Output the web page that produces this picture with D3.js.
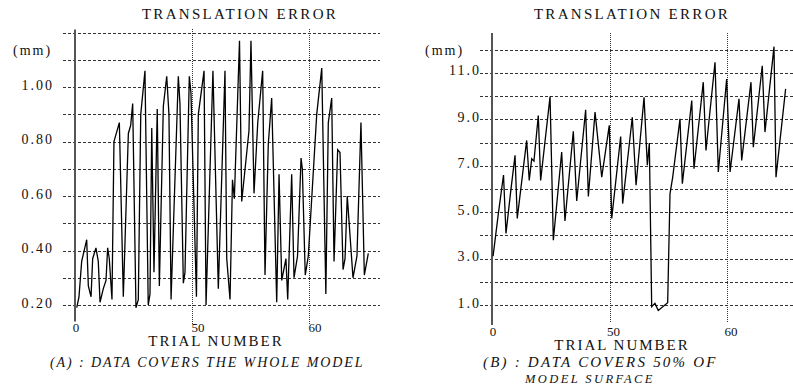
<!DOCTYPE html>
<html><head><meta charset="utf-8">
<script src="https://cdn.jsdelivr.net/npm/d3@7"></script>
<style>body{margin:0;background:#fff} svg{display:block}</style>
</head><body><svg id="c" width="793" height="387"></svg>
<script>
// ---- data (A) : data covers the whole model ----
const trialsA = [40.15,40.34,40.57,41.0,41.14,41.37,41.51,41.79,41.99,42.14,42.42,42.65,42.79,42.93,43.16,43.33,43.79,44.13,44.56,44.76,44.93,45.21,45.41,45.62,45.98,46.26,46.41,46.56,46.75,47.03,47.21,47.55,47.84,48.03,48.21,48.83,48.97,49.26,49.40,49.77,49.91,50.38,50.54,51.03,51.20,51.79,52.25,52.82,52.97,53.25,53.46,53.62,54.06,54.25,54.87,55.04,55.30,55.62,56.04,56.24,56.52,56.81,57.24,57.44,57.67,58.03,58.18,58.52,58.72,59.02,59.32,59.43,59.68,59.94,60.66,61.09,61.44,61.65,61.94,62.14,62.45,62.65,62.91,63.08,63.27,63.76,64.10,64.44,64.73,65.07];
const errorA = [0.19,0.23,0.36,0.44,0.27,0.23,0.37,0.41,0.36,0.21,0.26,0.29,0.41,0.37,0.22,0.80,0.87,0.23,0.83,0.86,0.94,0.19,0.22,0.90,1.06,0.20,0.24,0.85,0.32,0.92,0.27,0.93,1.04,0.90,0.22,1.04,0.94,0.28,0.32,1.04,0.98,0.23,0.90,1.06,0.20,1.06,0.26,1.06,0.37,0.22,0.66,0.59,1.17,0.58,0.84,1.17,0.61,0.87,1.06,0.31,0.79,0.96,0.21,0.68,0.29,0.37,0.22,0.68,0.30,0.38,0.74,0.70,0.31,0.38,0.90,1.07,0.24,0.87,0.96,0.36,0.77,0.76,0.33,0.37,0.60,0.30,0.38,0.87,0.31,0.39];
// ---- data (B) : data covers 50% of model surface ----
const trialsB = [40.09,40.54,40.98,41.19,41.57,41.96,42.15,42.95,43.17,43.38,43.57,43.94,44.14,44.94,45.22,45.93,46.21,46.92,47.21,47.97,48.20,48.77,49.34,49.98,50.19,50.95,51.12,51.94,52.26,52.94,53.22,53.39,53.59,53.87,54.15,54.95,55.15,55.38,56.0,56.20,57.0,57.19,57.98,58.21,58.98,59.26,59.97,60.26,61.02,61.25,62.04,62.24,63.0,63.23,64.0,64.17,64.99];
const errorB = [3.1,4.94,6.6,4.08,5.8,7.45,4.73,8.09,6.37,7.3,7.2,9.16,6.37,9.98,3.79,7.59,4.62,8.48,5.48,9.41,5.68,9.31,6.51,8.74,4.73,8.26,5.37,9.09,6.16,9.95,7.02,7.98,0.93,1.07,0.76,1.1,5.8,6.51,9.02,6.23,9.81,6.87,10.6,7.66,11.46,6.73,10.74,6.73,9.88,7.23,10.6,7.8,11.31,8.45,12.13,6.51,10.31];
// ---- ticks / labels ----
const yTicksA = [0.2,0.4,0.6,0.8,1.0];
const yTickLabelsA = ["0.20","0.40","0.60","0.80","1.00"];
const yTicksB = [1,3,5,7,9,11];
const yTickLabelsB = ["1.0","3.0","5.0","7.0","9.0","11.0"];
const xTicks = [40,50,60];
const xTickLabels = ["0","50","60"];
const titleText = "TRANSLATION ERROR";
const unitText = "(mm)";
const xTitle = "TRIAL NUMBER";
const captionA = ["(A) : DATA COVERS THE WHOLE MODEL"];
const captionB = ["(B) : DATA COVERS 50% OF","MODEL SURFACE"];

const svg = d3.select("#c");
const FONT = "'Liberation Serif','Times New Roman',serif";

function panel(cfg){
  const g = svg.append("g");
  const x = d3.scaleLinear().domain([40,60]).range(cfg.xr);
  const y = d3.scaleLinear().domain(cfg.yd).range(cfg.yr);
  // horizontal grid
  const grid = d3.range(cfg.yd[0], cfg.yd[1] + cfg.step/2, cfg.step);
  g.selectAll(".hg").data(grid).join("line")
    .attr("x1", cfg.gx[0]).attr("x2", cfg.gx[1])
    .attr("y1", d => Math.round(y(d)) + 0.5).attr("y2", d => Math.round(y(d)) + 0.5)
    .attr("stroke", "#333").attr("stroke-width", 1).attr("stroke-dasharray", "3,2");
  // vertical grid
  g.selectAll(".vg").data(xTicks.slice(1)).join("line")
    .attr("x1", d => Math.round(x(d)) + 0.5).attr("x2", d => Math.round(x(d)) + 0.5)
    .attr("y1", cfg.vy[0]).attr("y2", cfg.vy[1])
    .attr("stroke", "#333").attr("stroke-width", 1).attr("stroke-dasharray", "1,1");
  // axis line
  g.append("line").attr("x1", x(40)).attr("x2", x(40))
    .attr("y1", cfg.ay[0]).attr("y2", cfg.ay[1])
    .attr("stroke", "#555").attr("stroke-width", 2);
  // y tick labels
  g.selectAll(".yl").data(cfg.yt).join("text")
    .attr("x", cfg.ylx).attr("y", d => y(d) + 2.5)
    .attr("text-anchor", "end").attr("font-family", FONT).attr("font-size", 14)
    .attr("letter-spacing", 2).attr("fill", "#111")
    .text((d,i) => cfg.ytl[i]);
  // unit label
  g.append("text").attr("x", cfg.unitX).attr("y", 55)
    .attr("font-family", FONT).attr("font-size", 14).attr("letter-spacing", 2).attr("fill", "#111")
    .text(unitText);
  // x tick labels
  g.selectAll(".xl").data(xTicks).join("text")
    .attr("x", (d,i) => x(d) + (i === 0 ? 1 : cfg.xlOff)).attr("y", cfg.xly)
    .attr("text-anchor", "middle").attr("font-family", FONT).attr("font-size", 13).attr("fill", "#111")
    .text((d,i) => xTickLabels[i]);
  // title
  g.append("text").attr("x", cfg.titleX).attr("y", 19)
    .attr("text-anchor", "middle").attr("font-family", FONT).attr("font-size", 15)
    .attr("letter-spacing", 2.3).attr("fill", "#111").text(titleText);
  // x title
  g.append("text").attr("x", cfg.xtX).attr("y", cfg.xtY)
    .attr("text-anchor", "middle").attr("font-family", FONT).attr("font-size", 15)
    .attr("letter-spacing", 2).attr("fill", "#111").text(xTitle);
  // caption
  g.selectAll(".cap").data(cfg.cap).join("text")
    .attr("x", (d,i) => cfg.capX[i]).attr("y", (d,i) => cfg.capY[i])
    .attr("font-family", FONT).attr("font-style", "italic")
    .attr("font-size", (d,i) => cfg.capSize[i]).attr("letter-spacing", (d,i) => cfg.capLS[i])
    .attr("fill", "#111").text(d => d);
  // data line
  const line = d3.line().x(d => x(d[0])).y(d => y(d[1]));
  g.append("path").datum(d3.zip(cfg.tx, cfg.vals))
    .attr("d", line).attr("fill", "none").attr("stroke", "#000")
    .attr("stroke-width", 1.3).attr("stroke-linejoin", "miter").attr("stroke-miterlimit", 3);
}

panel({
  xr:[75,309], yd:[0.2,1.2], yr:[305,32.7], step:0.1,
  gx:[63,380], vy:[29,324], ay:[29.5,321.5],
  yt:yTicksA, ytl:yTickLabelsA, ylx:54, unitX:13,
  xlOff:6, xly:332, titleX:240, xtX:216, xtY:346,
  cap:captionA, capX:[50], capY:[367], capSize:[14], capLS:[1.9],
  tx:trialsA, vals:errorA
});
panel({
  xr:[492,727], yd:[1,12], yr:[305,49.7], step:1,
  gx:[480,793], vy:[33,323], ay:[33,325],
  yt:yTicksB, ytl:yTickLabelsB, ylx:481, unitX:425,
  xlOff:4, xly:336, titleX:632, xtX:622, xtY:350,
  cap:captionB, capX:[483,525], capY:[367,383], capSize:[15,12.5], capLS:[2.2,2.4],
  tx:trialsB, vals:errorB
});
</script></body></html>
